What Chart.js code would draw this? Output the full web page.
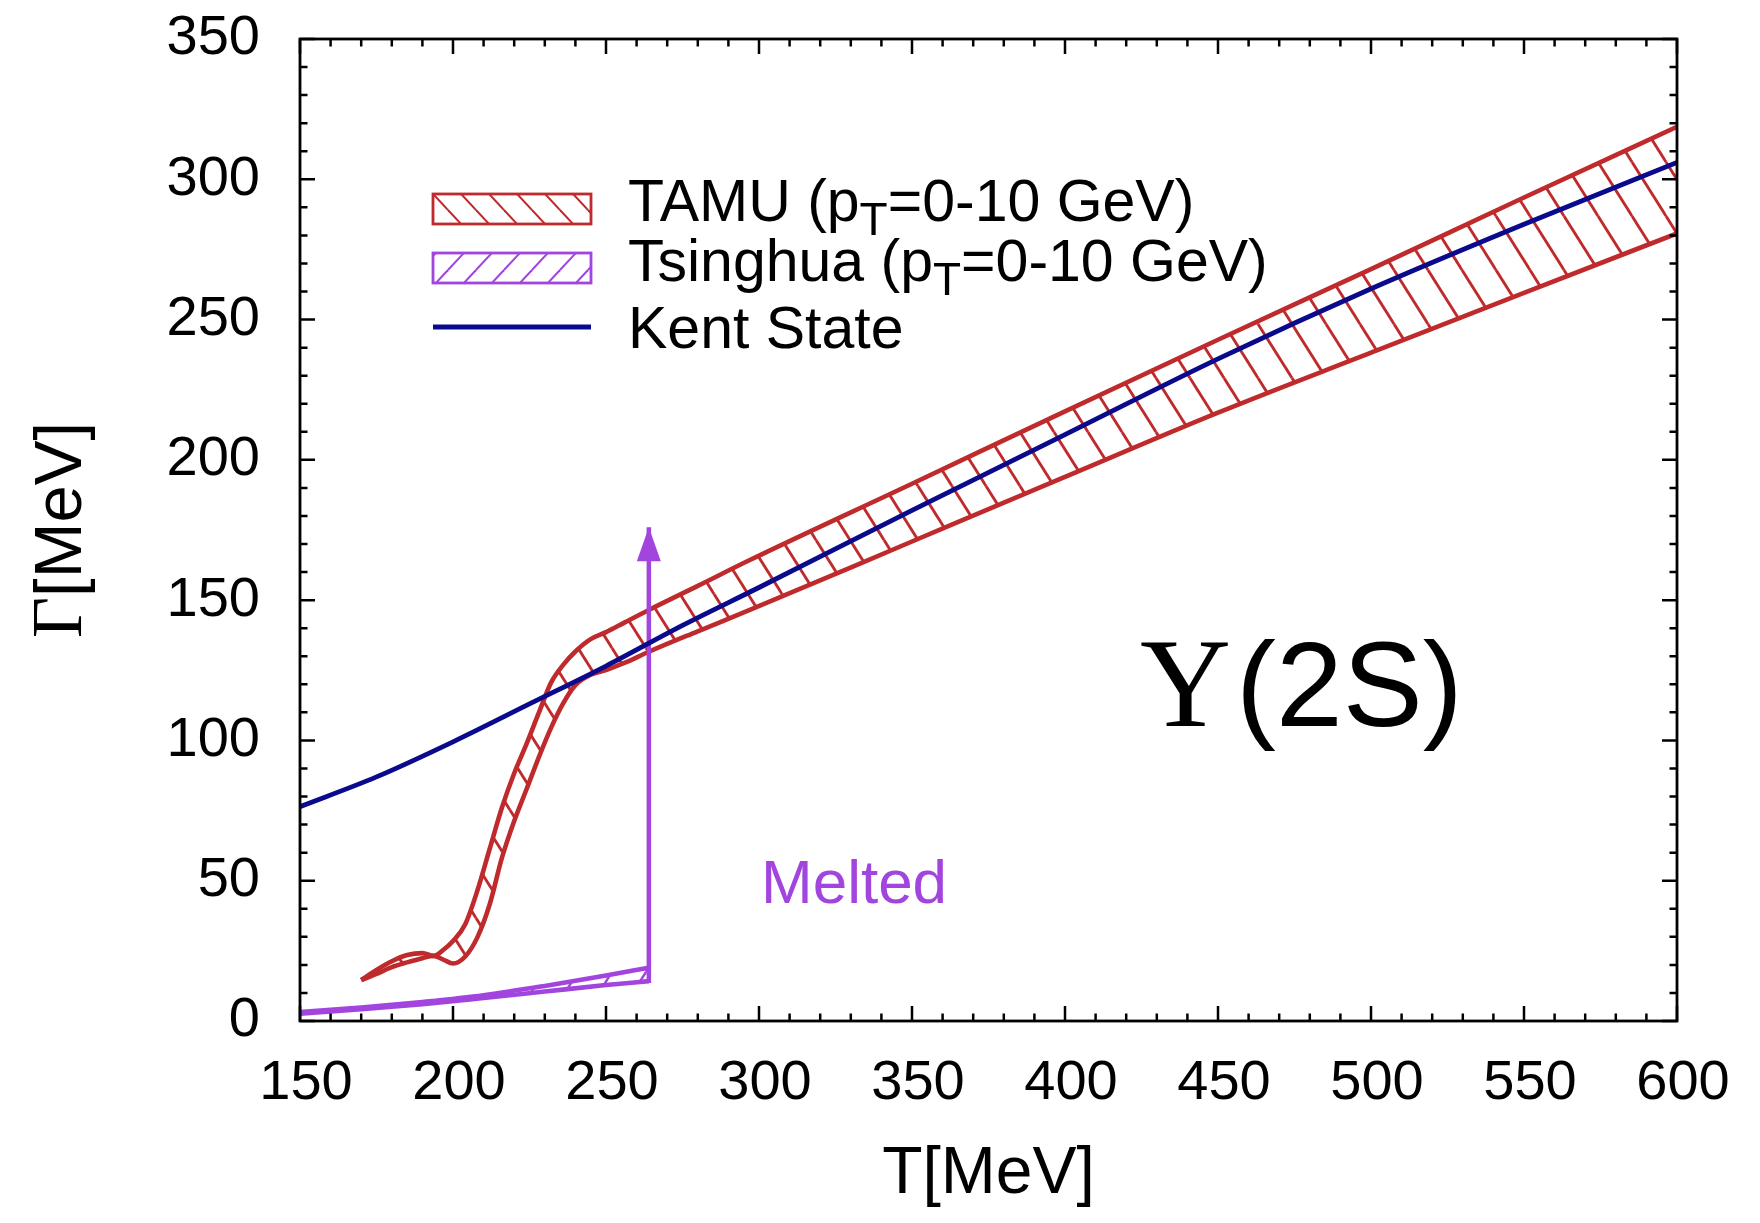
<!DOCTYPE html>
<html><head><meta charset="utf-8">
<script src="https://cdn.jsdelivr.net/npm/chart.js@4.4.0/dist/chart.umd.min.js"></script>
<style>html,body{margin:0;padding:0;background:#fff}#wrap{width:1760px;height:1223px;position:relative}</style>
</head><body><div id="wrap"><canvas id="c"></canvas></div>
<script>
// ---------- data ----------
const tamuT     = [170,175,180,185,190,193.6,197,200,204,208,212,216,220,224,228,232,236,240,245,250,256,264,280,297,350,400,450,500,550,600];
const tamuUpper = [14.6,18.2,21.3,23.5,24.2,23.2,25.5,28.5,34.5,46.6,61.4,76.1,88.3,98.7,109.7,120.5,126.9,131.7,136.1,138.6,142,146.5,155.1,164.3,191.5,217.3,242.8,268,293.5,318.7];
const tamuLower = [14.6,16.8,19.2,20.9,22.4,23.2,21.8,20.5,23,29.9,41.6,58.2,71.3,82.5,93.9,104.4,113.2,119.7,123.4,125.1,127.6,131.6,138.9,146.5,170.9,193.9,216.8,238.2,259.5,280.7];
const tsinghuaT     = [150,170,190,210,230,250,264];
const tsinghuaUpper = [3.2,4.8,6.8,9.2,12.5,16.2,19.0];
const tsinghuaLower = [2.6,4.2,6.0,8.2,10.5,12.8,14.2];
const kentT     = [150,175,200,225,250,275,300,350,400,450,500,550,600];
const kentGamma = [76.4,87,99.5,113,126.5,141,154.5,182,209,236,261,284,306];
const arrowT     = [264,264];
const arrowGamma = [13.5,176];
const xTickValues = [150,200,250,300,350,400,450,500,550,600];
const yTickValues = [0,50,100,150,200,250,300,350];
const minorStep = 10;
const legendLabels = [
  [{t:'TAMU (p'},{t:'T',sub:true},{t:'=0-10 GeV)'}],
  [{t:'Tsinghua (p'},{t:'T',sub:true},{t:'=0-10 GeV)'}],
  [{t:'Kent State'}]
];
const stateLabel = ['\u03A5','(2S)'];
const meltedLabel = 'Melted';
const xTitle = 'T[MeV]';
const yTitle = ['\u0393','[MeV]'];

// ---------- styles ----------
const RED = '#bf2a2c', BLUE = '#0a0a8c', PURPLE = '#a244de';
const SANS = '"Liberation Sans", Arial, sans-serif';
const SERIF = '"Liberation Serif", "Times New Roman", serif';

function makeHatch(color, dir, w, h, lw){
  const c = document.createElement('canvas'); c.width = w; c.height = h;
  const g = c.getContext('2d');
  g.strokeStyle = color; g.lineWidth = lw; g.lineCap='butt';
  for (let i=-1;i<=1;i++) for (let j=-1;j<=1;j++){
    const ox=i*w, oy=j*h;
    g.beginPath();
    if (dir==='\\'){ g.moveTo(ox,oy); g.lineTo(ox+w,oy+h); }
    else { g.moveTo(ox,oy+h); g.lineTo(ox+w,oy); }
    g.stroke();
  }
  return g.createPattern(c,'repeat');
}
const tamuHatch = makeHatch(RED,'\\',34,54,2.8);
const tsHatch = makeHatch(PURPLE,'/',34,54,2.5);
const tamuHatchLeg = makeHatch(RED,'\\',28,30,2.0);
const tsHatchLeg = makeHatch(PURPLE,'/',28,30,2.0);

const pts = (xs,ys)=>xs.map((x,i)=>({x:x,y:ys[i]}));

const decor = {
  id:'decor',
  afterDatasetsDraw(chart){
    const ctx = chart.ctx, a = chart.chartArea;
    const xs = chart.scales.x, ys = chart.scales.y;
    ctx.save();
    // arrow head
    const am = chart.getDatasetMeta(1);
    const tip = am.data[am.data.length-1];
    ctx.fillStyle = PURPLE;
    ctx.beginPath();
    ctx.moveTo(tip.x, tip.y);
    ctx.lineTo(tip.x-12, tip.y+34);
    ctx.lineTo(tip.x+12, tip.y+34);
    ctx.closePath(); ctx.fill();
    // frame
    ctx.strokeStyle='#000'; ctx.lineWidth=2.8;
    ctx.strokeRect(a.left, a.top, a.right-a.left, a.bottom-a.top);
    // ticks
    ctx.lineWidth=2.5;
    ctx.beginPath();
    for (let v=xs.min; v<=xs.max+1e-9; v+=minorStep){
      const p = xs.getPixelForValue(v);
      const L = xTickValues.includes(v) ? 15 : 7.5;
      ctx.moveTo(p,a.bottom); ctx.lineTo(p,a.bottom-L);
      ctx.moveTo(p,a.top); ctx.lineTo(p,a.top+L);
    }
    for (let v=ys.min; v<=ys.max+1e-9; v+=minorStep){
      const p = ys.getPixelForValue(v);
      const L = yTickValues.includes(v) ? 15 : 7.5;
      ctx.moveTo(a.left,p); ctx.lineTo(a.left+L,p);
      ctx.moveTo(a.right,p); ctx.lineTo(a.right-L,p);
    }
    ctx.stroke();
    // legend
    const lx = 433, lw = 158;
    const rows = [{y:194,h:30,pat:tamuHatchLeg,col:RED},{y:253,h:30,pat:tsHatchLeg,col:PURPLE}];
    rows.forEach(r=>{
      ctx.fillStyle = r.pat; ctx.fillRect(lx,r.y,lw,r.h);
      ctx.strokeStyle = r.col; ctx.lineWidth = 2.8; ctx.strokeRect(lx,r.y,lw,r.h);
    });
    ctx.strokeStyle = BLUE; ctx.lineWidth = 5;
    ctx.beginPath(); ctx.moveTo(lx,327); ctx.lineTo(lx+lw,327); ctx.stroke();
    const bases = [221,281,348];
    ctx.fillStyle='#000'; ctx.textBaseline='alphabetic'; ctx.textAlign='left';
    legendLabels.forEach((parts,i)=>{
      let x = 628;
      parts.forEach(p=>{
        ctx.font = (p.sub? '46px ':'59px ') + SANS;
        ctx.fillText(p.t, x, bases[i] + (p.sub?14:0));
        x += ctx.measureText(p.t).width;
      });
    });
    // state label
    ctx.font = '126px ' + SERIF;
    ctx.fillText(stateLabel[0], 1140, 726);
    ctx.font = '120px ' + SANS;
    ctx.fillText(stateLabel[1], 1236, 726);
    // melted
    ctx.fillStyle = PURPLE; ctx.font = '62px ' + SANS;
    ctx.fillText(meltedLabel, 761, 903);
    // axis titles
    ctx.fillStyle = '#000';
    ctx.font = '66px ' + SANS; ctx.textAlign='center';
    ctx.fillText(xTitle, (a.left+a.right)/2, 1193);
    ctx.textAlign='left';
    ctx.translate(81, (a.top+a.bottom)/2);
    ctx.rotate(-Math.PI/2);
    ctx.font = '71px ' + SERIF; const w1 = ctx.measureText(yTitle[0]).width;
    ctx.font = '67px ' + SANS; const w2 = ctx.measureText(yTitle[1]).width;
    let sx = -(w1+w2)/2;
    ctx.font = '71px ' + SERIF; ctx.fillText(yTitle[0], sx, 0);
    ctx.font = '67px ' + SANS; ctx.fillText(yTitle[1], sx+w1, 0);
    ctx.restore();
  }
};

new Chart(document.getElementById('c'), {
  type:'line',
  data:{datasets:[
    {label:'Kent State', data:pts(kentT,kentGamma), borderColor:BLUE, borderWidth:4.8, pointRadius:0, fill:false, cubicInterpolationMode:'monotone'},
    {label:'arrow', data:pts(arrowT,arrowGamma), borderColor:PURPLE, borderWidth:4.5, pointRadius:0, fill:false},
    {label:'TAMU upper', data:pts(tamuT,tamuUpper), borderColor:RED, borderWidth:4.6, pointRadius:0, cubicInterpolationMode:'monotone',
      fill:{target:'+1', above:tamuHatch, below:tamuHatch}},
    {label:'TAMU lower', data:pts(tamuT,tamuLower), borderColor:RED, borderWidth:4.6, pointRadius:0, cubicInterpolationMode:'monotone', fill:false},
    {label:'Tsinghua upper', data:pts(tsinghuaT,tsinghuaUpper), borderColor:PURPLE, borderWidth:4.6, pointRadius:0, cubicInterpolationMode:'monotone',
      fill:{target:'+1', above:tsHatch, below:tsHatch}},
    {label:'Tsinghua lower', data:pts(tsinghuaT,tsinghuaLower), borderColor:PURPLE, borderWidth:4.6, pointRadius:0, cubicInterpolationMode:'monotone', fill:false}
  ]},
  options:{
    responsive:true, maintainAspectRatio:false, animation:false,
    layout:{padding:{top:39,right:83,left:0,bottom:0}},
    plugins:{legend:{display:false}, tooltip:{enabled:false}},
    scales:{
      x:{type:'linear', min:150, max:600,
        afterBuildTicks:s=>{s.ticks = xTickValues.map(v=>({value:v}));},
        afterFit:s=>{s.height = 202; s.paddingLeft = 0; s.paddingRight = 0;},
        grid:{display:false, drawTicks:false}, border:{display:false},
        ticks:{font:{family:SANS,size:56}, color:'#000', padding:29, labelOffset:6, maxRotation:0, autoSkip:false}},
      y:{type:'linear', min:0, max:350,
        afterBuildTicks:s=>{s.ticks = yTickValues.map(v=>({value:v}));},
        afterFit:s=>{s.width = 300; s.paddingTop = 0; s.paddingBottom = 0;},
        grid:{display:false, drawTicks:false}, border:{display:false},
        ticks:{font:{family:SANS,size:56}, color:'#000', padding:40, autoSkip:false}}
    }
  },
  plugins:[decor]
});
</script></body></html>
